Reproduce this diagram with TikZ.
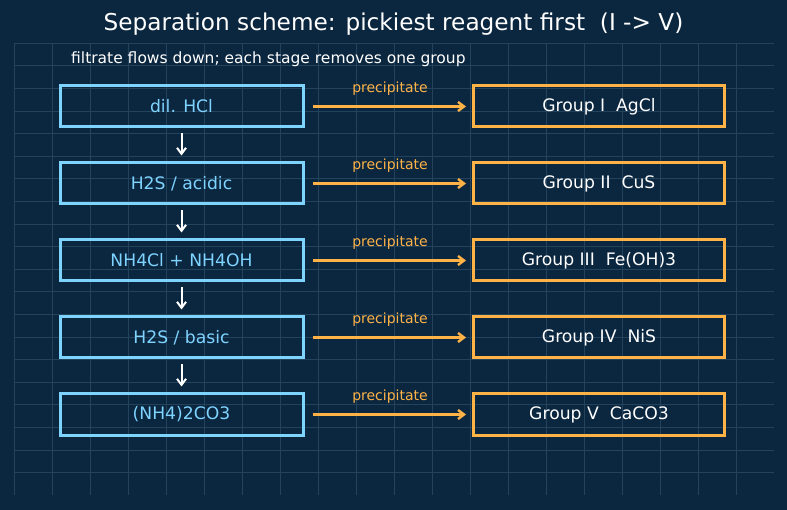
\documentclass[tikz,border=0pt]{standalone}
\usepackage{fontspec}
\setmainfont{DejaVu Sans}
\usetikzlibrary{arrows.meta}
\definecolor{bg}{HTML}{0B2740}
\definecolor{gridc}{HTML}{23425C}
\definecolor{lblue}{HTML}{7FD3FF}
\definecolor{orng}{HTML}{FFB347}
\tikzset{
  reagent/.style={draw=lblue, line width=3pt, minimum width=243pt, minimum height=41pt, inner sep=0pt, text=lblue, font=\fontsize{17.2}{20}\selectfont},
  grp/.style={draw=orng, line width=3pt, minimum width=251pt, minimum height=41pt, inner sep=0pt, text=white, font=\fontsize{17.2}{20}\selectfont},
  flow/.style={draw=white, line width=2pt, -{Straight Barb[length=6pt,width=9pt]}},
  prec/.style={draw=orng, line width=2.4pt, -{Straight Barb[length=6pt,width=9pt]}},
  plabel/.style={text=orng, font=\fontsize{14}{16}\selectfont, inner sep=0pt},
}
\begin{document}
\begin{tikzpicture}[x=1pt,y=-1pt]
\fill[bg] (0,0) rectangle (787,510);
\useasboundingbox (0,0) rectangle (787,510);
\foreach \i in {0,...,19} {
  \draw[gridc, line width=0.5pt] ({14+38*\i},43) -- ({14+38*\i},495);
  \draw[gridc, line width=0.5pt] (14,{43+22.6*\i}) -- (774,{43+22.6*\i});
}
\node[text=white, font=\fontsize{23.2}{27}\selectfont] (title) at (393.5,24) {Separation scheme: pickiest reagent first\ \ (I -> V)};
\node[text=white, font=\fontsize{15.5}{18}\selectfont, anchor=west, inner sep=0pt] (sub) at (71,59) {filtrate flows down; each stage removes one group};
\foreach \k/\r/\g in {1/{dil. HCl}/{Group I\ \ AgCl},
                      2/{H2S / acidic}/{Group II\ \ CuS},
                      3/{NH4Cl + NH4OH}/{Group III\ \ Fe(OH)3},
                      4/{H2S / basic}/{Group IV\ \ NiS},
                      5/{(NH4)2CO3}/{Group V\ \ CaCO3}} {
  \node[reagent] (r\k) at (181.5,{106.5+77*(\k-1)}) {\r};
  \node[grp] (g\k) at (599,{106.5+77*(\k-1)}) {\g};
  \coordinate (a\k) at (313,{106.5+77*(\k-1)});
  \coordinate (b\k) at (466,{106.5+77*(\k-1)});
  \draw[prec] (a\k) -- (b\k);
  \node[plabel] (p\k) at (390,{89+77*(\k-1)}) {precipitate};
}
\foreach \k [evaluate=\k as \n using int(\k+1)] in {1,...,4} {
  \draw[flow] ([yshift=-5pt]r\k.south) -- ([yshift=6pt]r\n.north);
}
\end{tikzpicture}
\end{document}
